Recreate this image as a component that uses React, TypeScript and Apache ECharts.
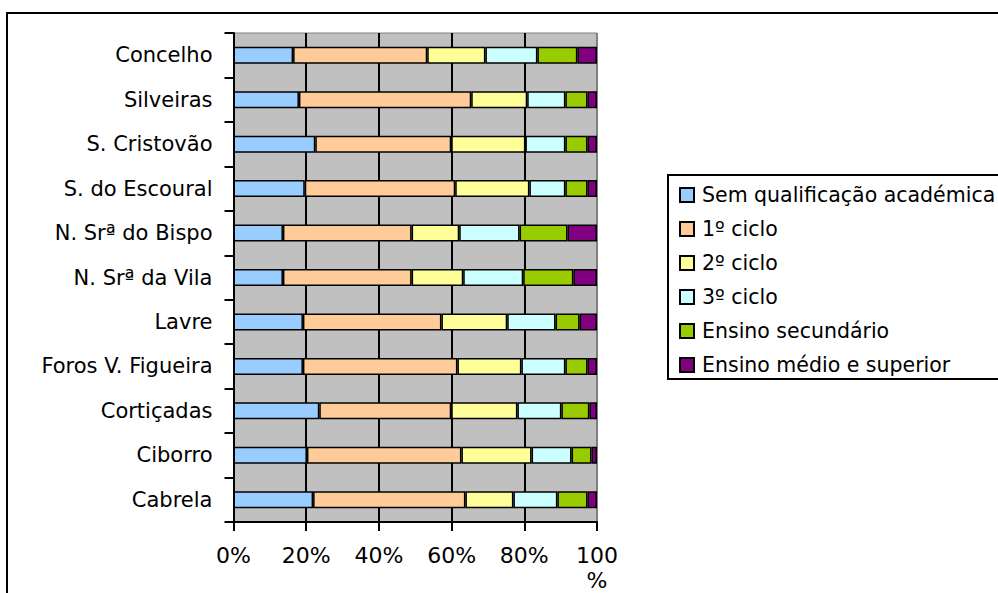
import React, { useEffect, useRef } from "react";
import * as echarts from "echarts";

const categories = [
  "Cabrela",
  "Ciborro",
  "Cortiçadas",
  "Foros V. Figueira",
  "Lavre",
  "N. Srª da Vila",
  "N. Srª do Bispo",
  "S. do Escoural",
  "S. Cristovão",
  "Silveiras",
  "Concelho",
];

const seriesNames = [
  "Sem qualificação académica",
  "1º ciclo",
  "2º ciclo",
  "3º ciclo",
  "Ensino secundário",
  "Ensino médio e superior",
];

const semQualificacao = [21.9, 20.2, 23.6, 19.1, 19.1, 13.6, 13.6, 19.6, 22.5, 18.0, 16.4];
const ciclo1 = [41.9, 42.5, 36.3, 42.5, 38.1, 35.4, 35.4, 41.4, 37.4, 47.4, 36.9];
const ciclo2 = [13.2, 19.3, 18.2, 17.6, 18.1, 14.2, 13.1, 20.4, 20.4, 15.4, 16.0];
const ciclo3 = [12.1, 11.0, 12.1, 12.1, 13.3, 16.5, 16.6, 9.9, 11.0, 10.5, 14.3];
const secundario = [8.3, 5.5, 7.7, 6.1, 6.6, 13.8, 13.2, 6.1, 6.1, 6.1, 11.0];
const medioSuperior = [2.6, 1.5, 2.1, 2.6, 4.8, 6.5, 8.1, 2.6, 2.6, 2.6, 5.4];

const xTicks = [0, 20, 40, 60, 80, 100];

const colors = ["#99CCFF", "#FFCC99", "#FFFF99", "#CCFFFF", "#99CC00", "#800080"];

const FONT = "DejaVu Sans";

export default function App() {
  const ref = useRef<HTMLDivElement>(null);

  useEffect(() => {
    if (!ref.current) return;
    const chart = echarts.init(ref.current, null, { renderer: "svg" });
    const values = [semQualificacao, ciclo1, ciclo2, ciclo3, secundario, medioSuperior];

    chart.setOption({
      animation: false,
      backgroundColor: "#FFFFFF",
      textStyle: { fontFamily: FONT, color: "#000000" },
      graphic: [
        {
          type: "rect",
          shape: { x: 7, y: 13, width: 1100, height: 700 },
          style: { fill: "none", stroke: "#000000", lineWidth: 2 },
          silent: true,
        },
      ],
      grid: {
        left: 233.5,
        top: 33,
        right: 401,
        bottom: 71,
        show: true,
        containLabel: false,
        outerBoundsMode: "none",
        backgroundColor: "#C0C0C0",
        borderColor: "#808080",
        borderWidth: 1,
      },
      xAxis: {
        type: "value",
        min: xTicks[0],
        max: xTicks[xTicks.length - 1],
        interval: 20,
        axisLine: { show: true, lineStyle: { color: "#000000", width: 2 } },
        axisTick: { show: true, length: 9, lineStyle: { color: "#000000", width: 2 } },
        axisLabel: {
          fontFamily: FONT,
          fontSize: 22,
          color: "#000000",
          margin: 21,
          lineHeight: 25,
          formatter: (v: number) => (v === 100 ? "100\n%" : v + "%"),
        },
        splitLine: {
          show: true,
          lineStyle: {
            color: ["#000000", "#000000", "#000000", "#000000", "#000000", "#808080"],
            width: 2,
          },
        },
      },
      yAxis: {
        type: "category",
        data: categories,
        axisLine: { show: true, lineStyle: { color: "#000000", width: 2 } },
        axisTick: { show: true, length: 9, lineStyle: { color: "#000000", width: 2 } },
        axisLabel: { fontFamily: FONT, fontSize: 21, color: "#000000", margin: 21 },
        splitLine: { show: false },
      },
      legend: {
        data: seriesNames,
        orient: "vertical",
        left: 668,
        top: 175,
        padding: [9, 24, 3, 11],
        itemWidth: 14,
        itemHeight: 14,
        itemGap: 12,
        icon: "rect",
        borderColor: "#000000",
        borderWidth: 2,
        backgroundColor: "#FFFFFF",
        textStyle: {
          fontFamily: FONT,
          fontSize: 20.5,
          color: "#000000",
          lineHeight: 22,
          padding: [0, 0, 0, 3],
        },
      },
      series: seriesNames.map((name, i) => ({
        name,
        type: "bar",
        stack: "total",
        barWidth: 17,
        data: values[i],
        itemStyle: { color: colors[i], borderColor: "#000000", borderWidth: 1.5 },
      })),
    });

    return () => chart.dispose();
  }, []);

  return (
    <div
      ref={ref}
      style={{ position: "fixed", left: 0, top: 0, width: 998, height: 593 }}
    />
  );
}
